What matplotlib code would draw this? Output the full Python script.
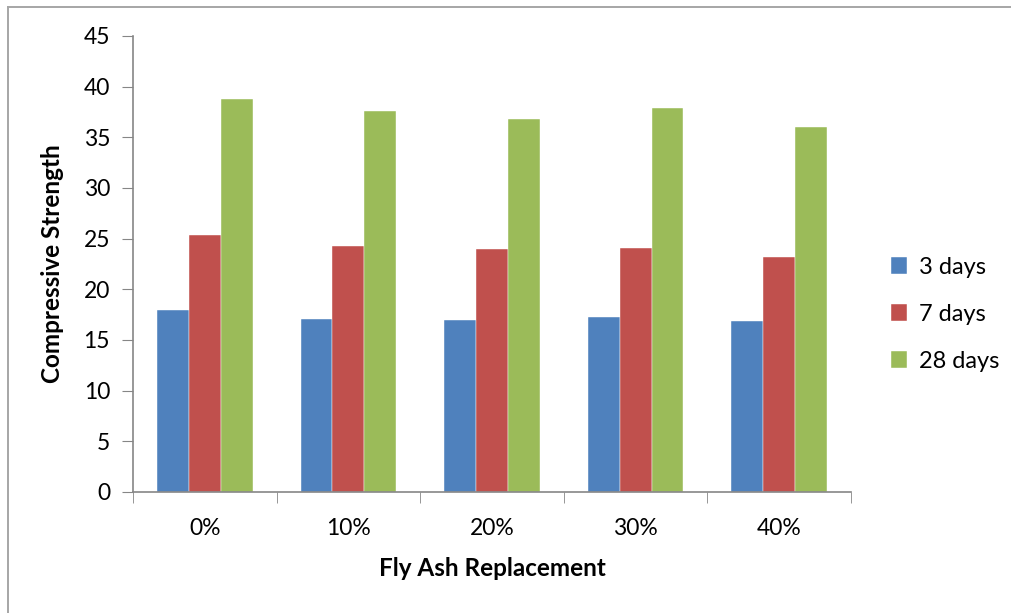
import numpy as np
import matplotlib.pyplot as plt
from matplotlib.lines import Line2D

plt.rcParams['font.family'] = ['Lato', 'DejaVu Sans']

replacement = ["0%", "10%", "20%", "30%", "40%"]
series_names = ["3 days", "7 days", "28 days"]
days_3 = [18.0, 17.1, 17.0, 17.3, 16.9]
days_7 = [25.4, 24.3, 24.0, 24.1, 23.2]
days_28 = [38.8, 37.6, 36.8, 37.9, 36.0]
colors = ["#4f81bd", "#c0504d", "#9bbb59"]

fig = plt.figure(figsize=(10.11, 6.13), dpi=100)
ax = fig.add_axes([133 / 1011, 121 / 613, 718 / 1011, 456 / 613])

# chart-area frame (left and top edges only are in view)
fx, fy = 7.5 / 1011, 1 - 6.5 / 613
fig.add_artist(Line2D([fx, fx], [0, fy], transform=fig.transFigure,
                      color="#a6a6a6", lw=1.4))
fig.add_artist(Line2D([fx, 1], [fy, fy], transform=fig.transFigure,
                      color="#a6a6a6", lw=1.4))

x = np.arange(len(replacement))
w = 0.8 / 3.6
for i, (vals, name) in enumerate(zip([days_3, days_7, days_28], series_names)):
    ax.bar(x + (i - 1) * w, vals, width=w, color=colors[i], label=name,
           edgecolor="white", linewidth=0.3)

ax.set_xlim(-0.5, len(replacement) - 0.5)
ax.set_ylim(0, 45)
ax.set_yticks(range(0, 46, 5))
ax.set_xticks(x)
ax.set_xticklabels(replacement)
ax.set_xticks(np.arange(-0.5, len(replacement), 1), minor=True)
ax.tick_params(axis='x', which='major', length=0, pad=19, labelsize=16.5)
ax.tick_params(axis='x', which='minor', length=8, color="#868686", direction='out')
ax.tick_params(axis='y', length=8, color="#868686", direction='out', labelsize=16.5, pad=8.5)

for side in ("top", "right"):
    ax.spines[side].set_visible(False)
for side in ("left", "bottom"):
    ax.spines[side].set_color("#868686")
    ax.spines[side].set_linewidth(1.2)

ax.set_xlabel("Fly Ash Replacement", fontsize=17.5, fontweight="bold", labelpad=13)
ax.set_ylabel("Compressive Strength", fontsize=17.5, fontweight="bold")
ax.yaxis.set_label_coords(-0.096, 0.5)

ax.legend(loc="center left", bbox_to_anchor=(1.026, 0.39), frameon=False,
          fontsize=17, handlelength=0.7, handleheight=0.7,
          handletextpad=0.5, labelspacing=1.1)

fig.savefig("out.png", dpi=100)
